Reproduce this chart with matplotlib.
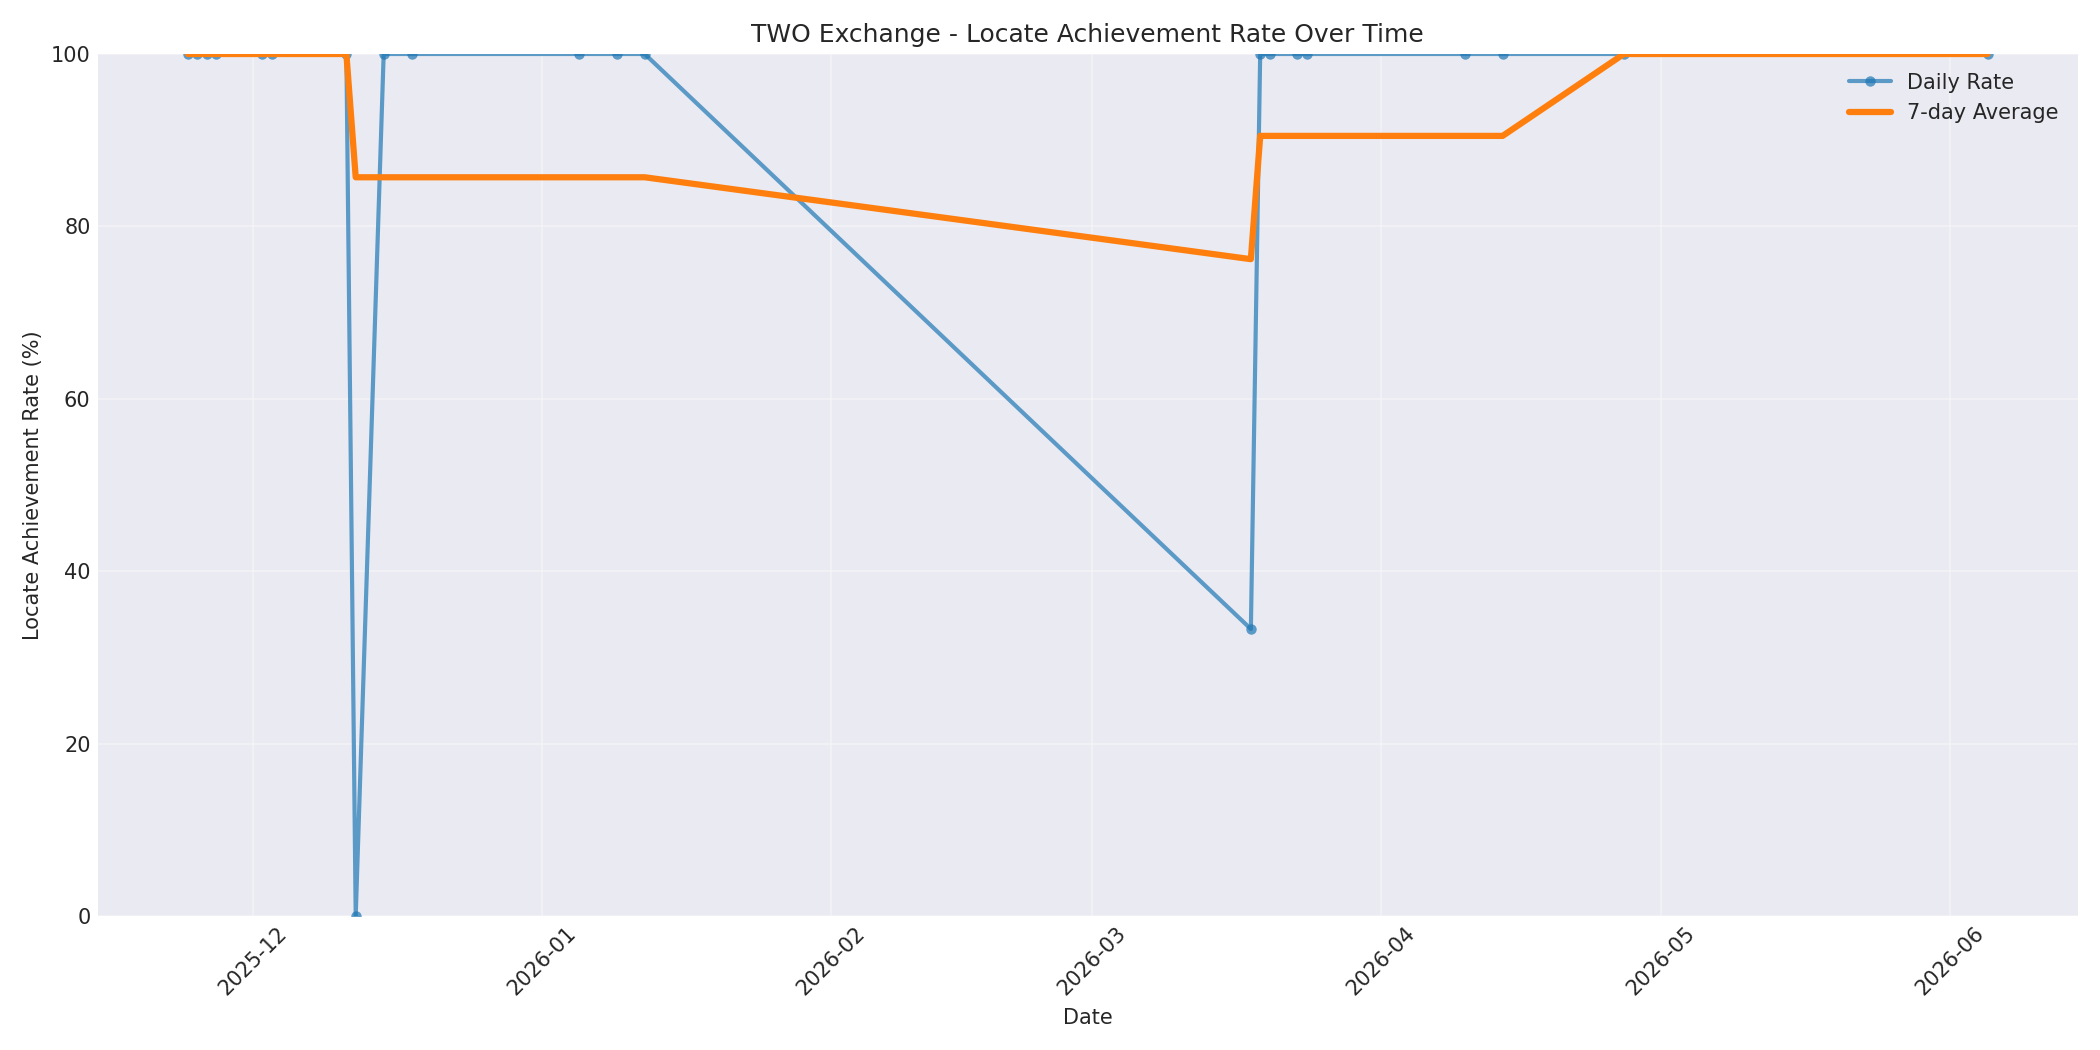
import matplotlib
matplotlib.use("Agg")
import matplotlib.pyplot as plt
import pandas as pd

# daily locate achievement rate
dates = pd.to_datetime([
    "2025-11-24", "2025-11-25", "2025-11-26", "2025-11-27", "2025-12-02",
    "2025-12-03", "2025-12-11", "2025-12-12", "2025-12-15", "2025-12-18",
    "2026-01-05", "2026-01-09", "2026-01-12", "2026-03-18", "2026-03-19",
    "2026-03-20", "2026-03-23", "2026-03-24", "2026-04-10", "2026-04-14",
    "2026-04-27", "2026-06-05",
])
daily_rate = [100, 100, 100, 100, 100, 100, 100, 0, 100, 100,
              100, 100, 100, 33.3, 100, 100, 100, 100, 100, 100,
              100, 100]
avg_7day = [100, 100, 100, 100, 100, 100, 100, 85.7, 85.7, 85.7,
            85.7, 85.7, 85.7, 76.2, 90.5, 90.5, 90.5, 90.5, 90.5, 90.5,
            100, 100]

plt.style.use("seaborn-v0_8")
plt.rcParams['font.family'] = ['DejaVu Sans']
fig, ax = plt.subplots(figsize=(14, 7), dpi=150)

ax.plot(dates, daily_rate, marker='o', markersize=5, linewidth=2,
        alpha=0.7, color='#1f77b4', label='Daily Rate')
ax.plot(dates, avg_7day, linewidth=3, color='#ff7f0e', label='7-day Average')

ax.set_title("TWO Exchange - Locate Achievement Rate Over Time", fontsize=12)
ax.set_xlabel("Date", fontsize=10)
ax.set_ylabel("Locate Achievement Rate (%)", fontsize=10)
ax.set_ylim(0, 100)
ax.legend(loc='upper right', fontsize=10)
ax.grid(True, alpha=0.3)
plt.xticks(rotation=45)
ax.tick_params(labelsize=10, pad=3.5)

plt.tight_layout()
plt.savefig("out.png")
